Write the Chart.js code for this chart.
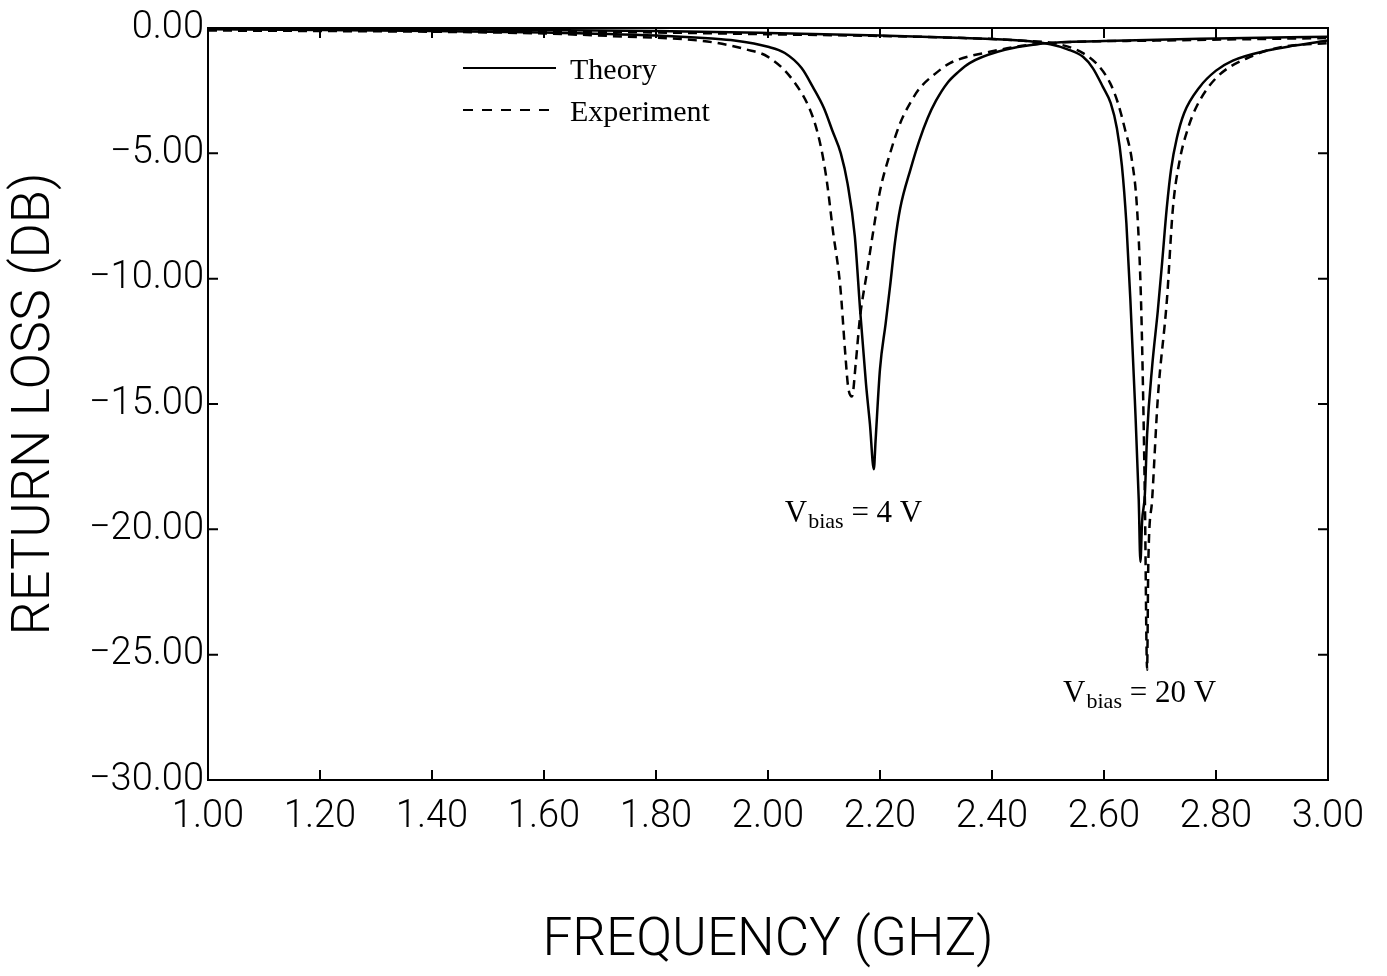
<!DOCTYPE html>
<html>
<head>
<meta charset="utf-8">
<script src="https://cdn.jsdelivr.net/npm/chart.js@4"></script>
<style>
  html, body { margin: 0; padding: 0; background: #fff; }
  canvas { display: block; }
</style>
</head>
<body>
<canvas id="myChart" width="1387" height="976"></canvas>
<script>
// Return loss vs frequency: [GHz, dB]
const theory4V = [
  [1.00, -0.05], [1.20, -0.08], [1.40, -0.12], [1.60, -0.18], [1.80, -0.30],
  [1.90, -0.42], [1.94, -0.50], [2.00, -0.75], [2.03, -1.0], [2.06, -1.6],
  [2.08, -2.35], [2.10, -3.2], [2.115, -4.1], [2.13, -5.0], [2.142, -6.2],
  [2.155, -8.3], [2.165, -11.4], [2.175, -14.2], [2.182, -15.8], [2.189, -17.6],
  [2.192, -16.5], [2.20, -13.6], [2.21, -11.8], [2.218, -10.3], [2.227, -8.5],
  [2.236, -7.2], [2.255, -5.6], [2.27, -4.5], [2.285, -3.6], [2.30, -2.9],
  [2.32, -2.2], [2.34, -1.75], [2.36, -1.4], [2.41, -0.95], [2.49, -0.62],
  [2.60, -0.52], [2.80, -0.42], [3.00, -0.35]
];
const experiment4V = [
  [1.00, -0.10], [1.20, -0.12], [1.40, -0.15], [1.60, -0.22], [1.75, -0.35],
  [1.85, -0.45], [1.91, -0.60], [1.96, -0.85], [2.00, -1.15], [2.045, -2.1],
  [2.08, -3.55], [2.095, -4.8], [2.105, -6.1], [2.116, -8.1], [2.129, -10.3],
  [2.138, -13.0], [2.143, -14.3], [2.15, -14.7], [2.157, -13.3], [2.164, -11.6],
  [2.177, -9.7], [2.188, -8.1], [2.20, -6.5], [2.218, -5.0], [2.236, -3.8],
  [2.255, -2.95], [2.271, -2.4], [2.30, -1.8], [2.325, -1.4], [2.396, -0.95],
  [2.49, -0.62], [2.70, -0.50], [3.00, -0.40]
];
const theory20V = [
  [1.00, -0.02], [1.40, -0.05], [1.80, -0.12], [2.00, -0.20], [2.20, -0.30],
  [2.35, -0.40], [2.45, -0.50], [2.504, -0.65], [2.535, -0.85], [2.5625, -1.15],
  [2.58, -1.6], [2.598, -2.35], [2.612, -3.0], [2.623, -4.0], [2.632, -5.5],
  [2.640, -7.8], [2.647, -10.8], [2.655, -14.8], [2.662, -18.8], [2.665, -21.3],
  [2.668, -19.7], [2.673, -18.6], [2.677, -16.2], [2.686, -13.5], [2.696, -11.3],
  [2.704, -9.3], [2.712, -7.2], [2.72, -5.6], [2.73, -4.4], [2.743, -3.4],
  [2.771, -2.35], [2.80, -1.7], [2.83, -1.3], [2.891, -0.9], [2.94, -0.7], [3.00, -0.5]
];
const experiment20V = [
  [1.00, -0.05], [1.40, -0.10], [1.80, -0.18], [2.00, -0.25], [2.20, -0.32],
  [2.35, -0.40], [2.45, -0.50], [2.52, -0.65], [2.5625, -1.0], [2.59, -1.5],
  [2.611, -2.2], [2.625, -3.0], [2.637, -4.0], [2.65, -5.3], [2.659, -7.2],
  [2.666, -10.8], [2.67, -14.8], [2.673, -18.8], [2.677, -25.6], [2.679, -21.5],
  [2.686, -18.8], [2.696, -14.8], [2.7125, -10.8], [2.723, -7.2], [2.735, -5.3],
  [2.75, -4.0], [2.766, -3.1], [2.80, -2.0], [2.861, -1.15], [2.92, -0.75], [3.00, -0.6]
];

const legendLabels = ['Theory', 'Experiment'];
const biasLabels = [
  { v: '4 V', at: [2.03, -19.7] },
  { v: '20 V', at: [2.527, -26.9] }
];

const toXY = arr => arr.map(p => ({ x: p[0], y: p[1] }));

const lineStyle = (dashed) => ({
  borderColor: '#000',
  borderWidth: 2.5,
  borderDash: dashed ? [9, 6] : [],
  pointRadius: 0,
  fill: false,
  cubicInterpolationMode: 'monotone'
});

const axisFont = '"Roboto", "Liberation Sans", Arial, sans-serif';

// inward ticks, frame, legend and bias labels
const decorations = {
  id: 'decorations',
  afterDraw(chart) {
    const ctx = chart.ctx;
    const { left, right, top, bottom } = chart.chartArea;
    const xs = chart.scales.x, ys = chart.scales.y;
    ctx.save();
    ctx.strokeStyle = '#000';
    ctx.lineWidth = 2;
    ctx.strokeRect(left, top, right - left, bottom - top);
    ctx.beginPath();
    xs.ticks.forEach(t => {
      const px = xs.getPixelForValue(t.value);
      ctx.moveTo(px, bottom); ctx.lineTo(px, bottom - 10);
      ctx.moveTo(px, top); ctx.lineTo(px, top + 10);
    });
    ys.ticks.forEach(t => {
      const py = ys.getPixelForValue(t.value);
      ctx.moveTo(left, py); ctx.lineTo(left + 10, py);
      ctx.moveTo(right, py); ctx.lineTo(right - 10, py);
    });
    ctx.stroke();

    // legend
    ctx.fillStyle = '#000';
    ctx.font = '30px "Liberation Serif", serif';
    ctx.textBaseline = 'middle';
    ctx.lineWidth = 2;
    legendLabels.forEach((lab, i) => {
      const y = 68 + i * 42;
      ctx.setLineDash(i === 0 ? [] : [10, 9]);
      ctx.beginPath();
      ctx.moveTo(463, y); ctx.lineTo(556, y);
      ctx.stroke();
      ctx.fillText(lab, 570, y + 3);
    });
    ctx.setLineDash([]);

    // V_bias labels
    ctx.textBaseline = 'alphabetic';
    biasLabels.forEach(b => {
      let x = xs.getPixelForValue(b.at[0]);
      const y = ys.getPixelForValue(b.at[1]);
      ctx.font = '31px "Liberation Serif", serif';
      ctx.fillText('V', x, y);
      x += ctx.measureText('V').width + 1;
      ctx.font = '22px "Liberation Serif", serif';
      ctx.fillText('bias', x, y + 6);
      x += ctx.measureText('bias').width;
      ctx.font = '31px "Liberation Serif", serif';
      ctx.fillText(' = ' + b.v, x, y);
    });
    ctx.restore();
  }
};

const ctx = document.getElementById('myChart');

new Chart(ctx, {
  type: 'line',
  data: {
    datasets: [
      { label: 'Theory 4V', data: toXY(theory4V), ...lineStyle(false) },
      { label: 'Experiment 4V', data: toXY(experiment4V), ...lineStyle(true) },
      { label: 'Theory 20V', data: toXY(theory20V), ...lineStyle(false) },
      { label: 'Experiment 20V', data: toXY(experiment20V), ...lineStyle(true) }
    ]
  },
  options: {
    responsive: false,
    animation: false,
    layout: { padding: { top: 28, right: 59, left: 0, bottom: 0 } },
    plugins: {
      legend: { display: false },
      tooltip: { enabled: false }
    },
    scales: {
      x: {
        type: 'linear',
        min: 1,
        max: 3,
        afterFit: s => { s.height = 196; },
        grid: { display: false, drawTicks: false },
        border: { display: false },
        ticks: {
          stepSize: 0.2,
          padding: 15,
          color: '#000',
          font: { family: axisFont, size: 38, weight: '300' },
          callback: v => v.toFixed(2)
        },
        title: {
          display: true,
          text: 'FREQUENCY (GHZ)',
          color: '#000',
          font: { family: axisFont, size: 53, weight: '300' },
          padding: { top: 0, bottom: 2 }
        }
      },
      y: {
        min: -30,
        max: 0,
        afterFit: s => { s.width = 208; },
        grid: { display: false, drawTicks: false },
        border: { display: false },
        ticks: {
          stepSize: 5,
          padding: 4,
          color: '#000',
          font: { family: axisFont, size: 38, weight: '300' },
          callback: v => v === 0 ? '0.00' : '\u2212' + Math.abs(v).toFixed(2)
        },
        title: {
          display: true,
          text: 'RETURN LOSS (DB)',
          color: '#000',
          font: { family: axisFont, size: 54, weight: '300' },
          padding: { top: 3, bottom: 0 }
        }
      }
    }
  },
  plugins: [decorations]
});
</script>
</body>
</html>
